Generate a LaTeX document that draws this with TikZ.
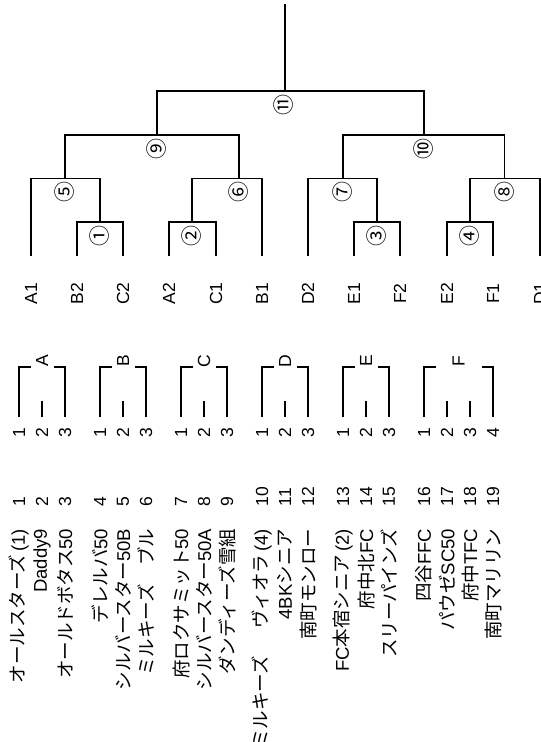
\documentclass[tikz,border=0pt]{standalone}
\usepackage{fontspec}
\setmainfont{Liberation Sans}
\newfontfamily\jp{Noto Sans CJK JP}
\begin{document}
\begin{tikzpicture}[x=1pt,y=-1pt,line width=1.8pt,
  lbl/.style={rotate=90,inner sep=0pt,font=\fontsize{17.5}{17.5}\selectfont},
  circ/.style={rotate=90,inner sep=0pt,font=\jp\fontsize{21}{21}\selectfont},
  team/.style={rotate=90,inner sep=0pt,anchor=east,font=\fontsize{18.5}{18.5}\selectfont},
  tnum/.style={rotate=90,inner sep=0pt,anchor=west,font=\fontsize{17.5}{17.5}\selectfont}]
\useasboundingbox (0,0) rectangle (541,742);
\clip (0,0) rectangle (541,742);
% leaves
\foreach \i/\x/\t in {0/31/A1,1/77/B2,2/123/C2,3/169/A2,4/216/C1,5/262/B1,6/308/D2,7/354/E1,8/400/F2,9/447/E2,10/493/F1,11/540/D1}{
  \coordinate (L\i) at (\x,255.6);
  \node[lbl] (t\i) at (\x,293.6) {\t};
}
% match junctions
\coordinate (m1) at (100,222);
\coordinate (m2) at (192,222);
\coordinate (m3) at (377,222);
\coordinate (m4) at (470,222);
\coordinate (m5) at (65,178.5);
\coordinate (m6) at (239,178.5);
\coordinate (m7) at (342.6,178.5);
\coordinate (m8) at (504.5,178.5);
\coordinate (m9) at (157,134.6);
\coordinate (m10) at (424,134.6);
\coordinate (m11) at (285,91);
\coordinate (top) at (285,3.5);
\draw (L1) |- (m1) -| (L2);
\draw (L3) |- (m2) -| (L4);
\draw (L7) |- (m3) -| (L8);
\draw (L9) |- (m4) -| (L10);
\draw (L0) |- (m5) -| (m1);
\draw (m2) |- (m6) -| (L5);
\draw (L6) |- (m7) -| (m3);
\draw (m4) |- (m8) -| (L11);
\draw (m5) |- (m9) -| (m6);
\draw (m7) |- (m10) -| (m8);
\draw (m9) |- (m11) -| (m10);
\draw (m11) -- (top);
% match numbers
\node[circ] (c1) at (100,236) {①};
\node[circ] (c2) at (192,236) {②};
\node[circ] (c3) at (377,236) {③};
\node[circ] (c4) at (470,236) {④};
\node[circ] (c5) at (65,192) {⑤};
\node[circ] (c6) at (239,192) {⑥};
\node[circ] (c7) at (342.6,192) {⑦};
\node[circ] (c8) at (504.5,192) {⑧};
\node[circ] (c9) at (157,149) {⑨};
\node[circ] (c10) at (424,149) {⑩};
\node[circ] (c11) at (284,104.5) {⑪};
% group brackets (3 teams)
\foreach \g/\l/\m/\r in {A/19/42/65,B/100/123/146,C/181/204/227,D/262/285/308,E/343/366/389}{
  \draw (\l,417) |- (\l+12,367);
  \draw (\r,417) |- (\r-11,367);
  \draw (\m,401) -- (\m,417);
  \node[lbl] (g\g) at (\m,361) {\g};
  \node[lbl] (g\g1) at (\l,433) {1};
  \node[lbl] (g\g2) at (\m,433) {2};
  \node[lbl] (g\g3) at (\r,433) {3};
}
% group F (4 teams)
\draw (424,417) |- (436,367);
\draw (493,417) |- (482,367);
\draw (447,401) -- (447,417);
\draw (470,401) -- (470,417);
\node[lbl] (gF) at (458.5,361) {F};
\node[lbl] (gF1) at (424,433) {1};
\node[lbl] (gF2) at (447,433) {2};
\node[lbl] (gF3) at (470,433) {3};
\node[lbl] (gF4) at (493,433) {4};
% team list
\node[team] (n1) at (19,528) {{\jp オールスターズ}\,(1)};
\node[team] (n2) at (42,528) {Daddy9};
\node[team] (n3) at (65,528) {{\jp オールドボタス}50};
\node[team] (n4) at (100,528) {{\jp デレルバ}50};
\node[team] (n5) at (123,528) {{\jp シルバースター}50B};
\node[team] (n6) at (146,528) {{\jp ミルキーズ　ブル}};
\node[team] (n7) at (181,528) {{\jp 府ロクサミット}50};
\node[team] (n8) at (204,528) {{\jp シルバースター}50A};
\node[team] (n9) at (227,528) {{\jp ダンディーズ雪組}};
\node[team] (n10) at (262,528) {{\jp ミルキーズ　\hspace{9pt}ヴィオラ}\,(4)};
\node[team] (n11) at (285,528) {4BK{\jp シニア}};
\node[team] (n12) at (308,528) {{\jp 南町モンロー}};
\node[team] (n13) at (343,528) {FC{\jp 本宿シニア}\,(2)};
\node[team] (n14) at (366,528) {{\jp 府中北}FC};
\node[team] (n15) at (389,528) {{\jp スリーパインズ}};
\node[team] (n16) at (424,528) {{\jp 四谷}FFC};
\node[team] (n17) at (447,528) {{\jp パウゼ}SC50};
\node[team] (n18) at (470,528) {{\jp 府中}TFC};
\node[team] (n19) at (493,528) {{\jp 南町マリリン}};
\foreach \k/\x in {1/19,2/42,3/65,4/100,5/123,6/146,7/181,8/204,9/227,10/262,11/285,12/308,13/343,14/366,15/389,16/424,17/447,18/470,19/493}{
  \node[tnum] (k\k) at (\x,507) {\k};
}
\end{tikzpicture}
\end{document}
